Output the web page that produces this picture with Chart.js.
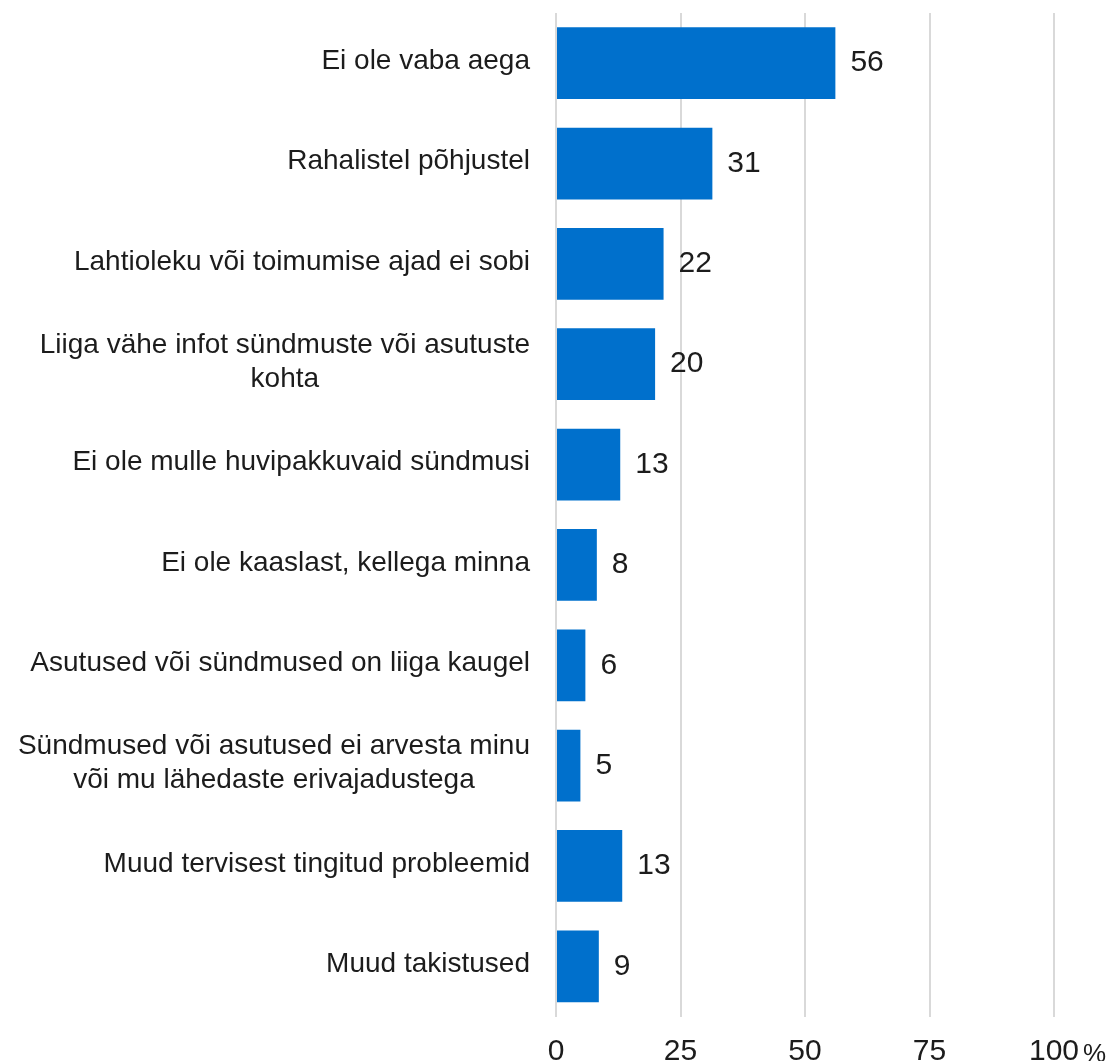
<!DOCTYPE html>
<html lang="et">
<head>
<meta charset="utf-8">
<title>Takistused</title>
<script src="https://cdn.jsdelivr.net/npm/chart.js@4/dist/chart.umd.min.js"></script>
<style>
  html, body { margin: 0; padding: 0; background: #ffffff; }
  #wrap { position: relative; width: 1106px; height: 1061px; }
</style>
</head>
<body>
<div id="wrap"><canvas id="chart"></canvas></div>
<script>
const categories = [
  "Ei ole vaba aega",
  "Rahalistel põhjustel",
  "Lahtioleku või toimumise ajad ei sobi",
  ["Liiga vähe infot sündmuste või asutuste", "kohta"],
  "Ei ole mulle huvipakkuvaid sündmusi",
  "Ei ole kaaslast, kellega minna",
  "Asutused või sündmused on liiga kaugel",
  ["Sündmused või asutused ei arvesta minu", "või mu lähedaste erivajadustega"],
  "Muud tervisest tingitud probleemid",
  "Muud takistused",
];
const shares = [56.1, 31.4, 21.6, 19.9, 12.9, 8.2, 5.9, 4.9, 13.3, 8.6];
const xTicks = [0, 25, 50, 75, 100];

const FONT = "'Liberation Sans', Arial, sans-serif";
const TEXT = "#1c1c1c";
const BLUE = "#0070cc";

// category labels: right-aligned block, lines centred on each other
const categoryLabels = {
  id: "categoryLabels",
  afterDraw(chart) {
    const { ctx, chartArea, scales } = chart;
    const right = chartArea.left - 26;
    const lineH = 34;
    ctx.save();
    ctx.font = "28px " + FONT;
    ctx.fillStyle = TEXT;
    ctx.textAlign = "center";
    ctx.textBaseline = "middle";
    categories.forEach((label, i) => {
      const lines = Array.isArray(label) ? label : [label];
      const maxW = Math.max(...lines.map((l) => ctx.measureText(l).width));
      const cx = right - maxW / 2;
      const y0 = scales.y.getPixelForValue(i) - 2 - ((lines.length - 1) * lineH) / 2;
      lines.forEach((l, j) => ctx.fillText(l, cx, y0 + j * lineH));
    });
    ctx.restore();
  },
};

// value labels at the bar ends
const valueLabels = {
  id: "valueLabels",
  afterDatasetsDraw(chart) {
    const { ctx } = chart;
    const meta = chart.getDatasetMeta(0);
    ctx.save();
    ctx.font = "30px " + FONT;
    ctx.fillStyle = TEXT;
    ctx.textAlign = "left";
    ctx.textBaseline = "middle";
    meta.data.forEach((bar, i) => {
      ctx.fillText(String(Math.round(shares[i])), bar.x + 15, bar.y);
    });
    ctx.restore();
  },
};

// "%" after the last x tick
const percentSign = {
  id: "percentSign",
  afterDraw(chart) {
    const { ctx, scales } = chart;
    const x = scales.x;
    const last = xTicks[xTicks.length - 1];
    ctx.save();
    ctx.font = "30px " + FONT;
    const half = ctx.measureText(String(last)).width / 2;
    ctx.font = "26px " + FONT;
    ctx.fillStyle = TEXT;
    ctx.textAlign = "left";
    ctx.textBaseline = "alphabetic";
    ctx.fillText("%", x.getPixelForValue(last) + half + 4, x.top + 17 + 18 + 10.5);
    ctx.restore();
  },
};

new Chart(document.getElementById("chart"), {
  type: "bar",
  data: {
    labels: categories,
    datasets: [
      {
        data: shares,
        backgroundColor: BLUE,
        borderWidth: 0,
        barPercentage: 1,
        categoryPercentage: 0.715,
      },
    ],
  },
  options: {
    indexAxis: "y",
    responsive: true,
    maintainAspectRatio: false,
    animation: false,
    layout: { padding: { left: 0, right: 52, top: 13, bottom: 0 } },
    plugins: {
      legend: { display: false },
      tooltip: { enabled: false },
    },
    scales: {
      x: {
        min: 0,
        max: 100,
        afterBuildTicks: (scale) => {
          scale.ticks = xTicks.map((v) => ({ value: v }));
        },
        afterFit: (scale) => {
          scale.height = 44.5;
        },
        grid: { color: "#d9d9d9", lineWidth: 2, drawTicks: false },
        border: { display: false },
        ticks: {
          padding: 17,
          color: TEXT,
          font: { family: FONT, size: 30 },
          maxRotation: 0,
        },
      },
      y: {
        grid: { display: false, drawTicks: false },
        border: { display: false },
        ticks: { display: false },
        afterFit: (scale) => {
          scale.width = 556;
        },
      },
    },
  },
  plugins: [categoryLabels, valueLabels, percentSign],
});
</script>
</body>
</html>
